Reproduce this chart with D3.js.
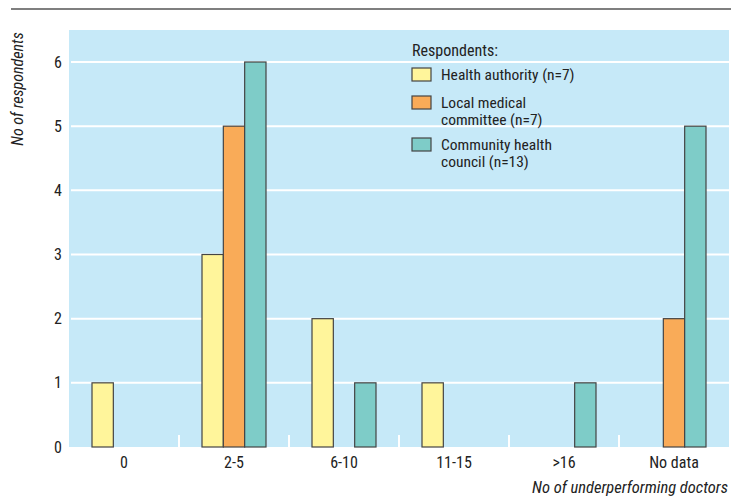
<!DOCTYPE html>
<html><head><meta charset="utf-8">
<script src="https://cdn.jsdelivr.net/npm/d3@7"></script>
<style>
body{margin:0;background:#fff;}
text{font-family:"Liberation Sans Narrow","Roboto Condensed","Arial Narrow",Roboto,sans-serif;fill:#222;}
</style></head><body>
<svg id="c" width="731" height="496"></svg>
<script>
const categories = ["0","2-5","6-10","11-15",">16","No data"];
const seriesNames = ["Health authority (n=7)","Local medical committee (n=7)","Community health council (n=13)"];
const legendLines = [["Health authority (n=7)"],["Local medical","committee (n=7)"],["Community health","council (n=13)"]];
const healthAuthority = [1,3,2,1,0,0];
const localMedical = [0,5,0,0,0,2];
const communityHealth = [0,6,1,0,1,5];
const colors = ["#FFF59B","#F9AB58","#7ECCC8"];
const yTicks = [0,1,2,3,4,5,6];

const series = [healthAuthority, localMedical, communityHealth];
const svg = d3.select("#c");
const L = 69, R = 729, T = 30, B = 447;

svg.append("line").attr("x1",11).attr("x2",731).attr("y1",9).attr("y2",9)
  .attr("stroke","#555").attr("stroke-width",1.5);

svg.append("rect").attr("x",L).attr("y",T).attr("width",R-L).attr("height",B-T).attr("fill","#C6E9F8");

const x = d3.scaleBand().domain(categories).range([L,R]);
const y = d3.scaleLinear().domain([0,6]).range([B,62]);
const xs = d3.scaleBand().domain(d3.range(3)).range([0,64]);

// gridlines
svg.append("g").selectAll("line").data(yTicks.filter(d=>d>0)).join("line")
  .attr("x1",L+2).attr("x2",R).attr("y1",d=>y(d)).attr("y2",d=>y(d))
  .attr("stroke","#fff").attr("stroke-width",2);

// category boundary ticks
svg.append("g").selectAll("line").data(categories.slice(1)).join("line")
  .attr("x1",d=>x(d)).attr("x2",d=>x(d)).attr("y1",B-12).attr("y2",B)
  .attr("stroke","#fff").attr("stroke-width",2);

// bars
series.forEach((s,i)=>{
  svg.append("g").selectAll("rect").data(categories.map((c,j)=>({c,v:s[j]})).filter(d=>d.v>0)).join("rect")
    .attr("x",d=>x(d.c)+x.bandwidth()/2-32+xs(i))
    .attr("width",xs.bandwidth())
    .attr("y",d=>y(d.v)).attr("height",d=>B-y(d.v))
    .attr("fill",colors[i]).attr("stroke","#444").attr("stroke-width",1.2);
});

// y axis labels
svg.append("g").selectAll("text").data(yTicks).join("text")
  .attr("x",62).attr("y",d=>y(d)+5.5).attr("text-anchor","end")
  .attr("font-size",16).text(d=>d);

// x labels
svg.append("g").selectAll("text").data(categories).join("text")
  .attr("x",d=>x(d)+x.bandwidth()/2).attr("y",468).attr("text-anchor","middle")
  .attr("font-size",16).text(d=>d);

svg.append("text").attr("x",728).attr("y",493).attr("text-anchor","end")
  .attr("font-size",16.5).attr("font-style","italic").text("No of underperforming doctors");

svg.append("text").attr("transform","translate(23,89) rotate(-90)").attr("text-anchor","middle")
  .attr("font-size",16).attr("font-style","italic").text("No of respondents");

// legend
svg.append("text").attr("x",412).attr("y",56).attr("font-size",16).text("Respondents:");
const ly = [68,96,138];
legendLines.forEach((lines,i)=>{
  svg.append("rect").attr("x",412).attr("y",ly[i]).attr("width",19).attr("height",13)
    .attr("fill",colors[i]).attr("stroke","#444").attr("stroke-width",1.2);
  lines.forEach((ln,k)=>svg.append("text").attr("x",441).attr("y",ly[i]+11.5+k*17)
    .attr("font-size",15.5).text(ln));
});
</script></body></html>
